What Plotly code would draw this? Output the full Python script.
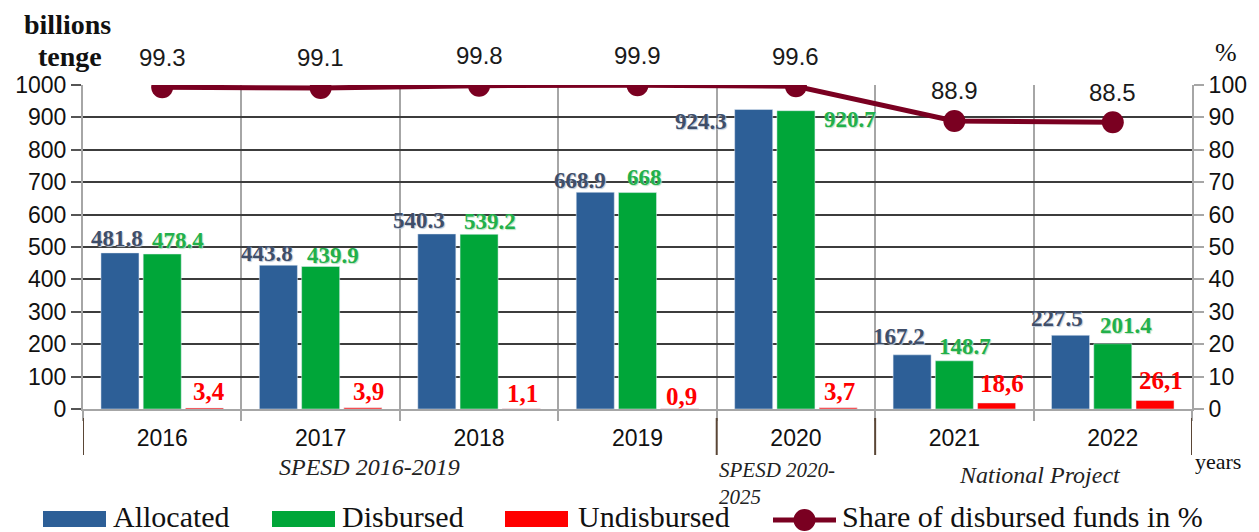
import plotly.graph_objects as go

years = ["2016", "2017", "2018", "2019", "2020", "2021", "2022"]
allocated = [481.8, 443.8, 540.3, 668.9, 924.3, 167.2, 227.5]
disbursed = [478.4, 439.9, 539.2, 668.0, 920.7, 148.7, 201.4]
undisbursed = [3.4, 3.9, 1.1, 0.9, 3.7, 18.6, 26.1]
share = [99.3, 99.1, 99.8, 99.9, 99.6, 88.9, 88.5]
series_names = ["Allocated", "Disbursed", "Undisbursed", "Share of disbursed funds in %"]

left_ticks = list(range(0, 1001, 100))
right_ticks = list(range(0, 101, 10))

# label offsets (px) relative to each bar's top-centre: styling only
alloc_dx = [-3, -11, -18, -15, -53, -13, -14]
alloc_dy = [14, 12, 13, 12, -12, 18, 17]
disb_dx = [16, 12, 11, 7, 54, 11, 13]
disb_dy = [14, 11, 13, 15, -9, 14, 18]
undis_dx = [5, 6, 1, 2, 1, 5, 6]
undis_dy = [16, 16, 15, 12, 16, 19, 20]

# the page body adds an 8px offset; the figure is sized so the window is filled
PAGE_OFF = 8
WIN_W, WIN_H = 1259, 532
W, H = WIN_W - PAGE_OFF, WIN_H - PAGE_OFF
PLOT_L, PLOT_R, PLOT_T, PLOT_B = 83, 1192, 85, 409   # window pixels
ML, MR = PLOT_L - PAGE_OFF, WIN_W - PLOT_R
MT, MB = PLOT_T - PAGE_OFF, WIN_H - PLOT_B
BARGAP, GROUPGAP = 0.2, 0.1
plot_w = PLOT_R - PLOT_L
plot_h = PLOT_B - PLOT_T
slot = plot_w / len(years) * (1 - BARGAP) / 3

BLUE, GREEN, RED, LINE = "#2D5F97", "#00A639", "#FF0000", "#7A0021"
colors = [BLUE, GREEN, RED, LINE]
SERIF = "Liberation Serif, Times New Roman, serif"
SANS = "Liberation Sans, Arial, sans-serif"


def px_x(px):
    return (px - PLOT_L) / plot_w


def px_y(py):
    return (PLOT_B - py) / plot_h


fig = go.Figure()
fig.add_bar(x=years, y=allocated, name=series_names[0], marker_color=BLUE)
fig.add_bar(x=years, y=disbursed, name=series_names[1], marker_color=GREEN)
fig.add_bar(x=years, y=undisbursed, name=series_names[2], marker_color=RED)
fig.add_scatter(x=years, y=share, name=series_names[3], yaxis="y2",
                mode="lines+markers", line=dict(color=LINE, width=5),
                marker=dict(color=LINE, size=22))

ann = []


def fmt(v):
    return f"{v:g}"


for i, yr in enumerate(years):
    ann.append(dict(x=i, y=allocated[i], xref="x", yref="y", text=fmt(allocated[i]),
                    showarrow=False, xshift=-slot + alloc_dx[i], yshift=alloc_dy[i],
                    font=dict(family=SERIF, size=23, color="#3F4E69",
                              shadow="1px 1px 1px #b9c6d6", weight="bold")))
    ann.append(dict(x=i, y=disbursed[i], xref="x", yref="y", text=fmt(disbursed[i]),
                    showarrow=False, xshift=disb_dx[i], yshift=disb_dy[i],
                    font=dict(family=SERIF, size=23, color="#22B04A",
                              shadow="1px 1px 1px #b8e0c0", weight="bold")))
    ann.append(dict(x=i, y=undisbursed[i], xref="x", yref="y",
                    text=f"{undisbursed[i]:.1f}".replace(".", ","),
                    showarrow=False, xshift=slot + undis_dx[i], yshift=undis_dy[i],
                    font=dict(family=SERIF, size=25, color=RED, weight="bold")))
    ann.append(dict(x=i, y=share[i], xref="x", yref="y2", text=f"{share[i]:.1f}",
                    showarrow=False, yshift=30,
                    font=dict(family=SANS, size=24, color="#1a1a1a")))

C = dict(xanchor="center", yanchor="middle", showarrow=False)
ann += [
    dict(x=px_x(67), y=px_y(24), xref="paper", yref="paper", text="<b>billions</b>",
         font=dict(family=SERIF, size=28, color="#111"), **C),
    dict(x=px_x(70), y=px_y(56), xref="paper", yref="paper", text="<b>tenge</b>",
         font=dict(family=SERIF, size=28, color="#111"), **C),
    dict(x=px_x(1226), y=px_y(52), xref="paper", yref="paper", text="%",
         font=dict(family=SERIF, size=26, color="#111"), **C),
    dict(x=1.31, y=px_y(467), xref="x", yref="paper", text="<i>SPESD 2016-2019</i>",
         font=dict(family=SERIF, size=24, color="#222"), **C),
    dict(x=3.5, y=px_y(456), xref="x", yref="paper", text="<i>SPESD 2020-<br>2025</i>",
         showarrow=False, xanchor="left", yanchor="top", align="left",
         font=dict(family=SERIF, size=21, color="#222")),
    dict(x=5.54, y=px_y(475), xref="x", yref="paper", text="<i>National Project</i>",
         font=dict(family=SERIF, size=24, color="#222"), **C),
    dict(x=6.5, y=px_y(461), xref="x", yref="paper", text="years", xanchor="left",
         yanchor="middle", showarrow=False, xshift=1,
         font=dict(family=SERIF, size=22, color="#111")),
]

shapes = []
for b in [-0.5, 3.5, 4.5, 6.5]:
    shapes.append(dict(type="line", xref="x", yref="paper", x0=b, x1=b,
                       y0=px_y(418), y1=px_y(455), line=dict(color="#5a4636", width=2)))

# custom legend (wide swatches like the original)
sw_x0 = [43, 272, 505, 773]
text_x0 = [111, 340, 576, 840]
SW_W = 63
for k, name in enumerate(series_names):
    if k < 3:
        shapes.append(dict(type="rect", xref="paper", yref="paper",
                           x0=px_x(sw_x0[k]), x1=px_x(sw_x0[k] + SW_W),
                           y0=px_y(527), y1=px_y(511), fillcolor=colors[k],
                           line=dict(width=0), layer="above"))
    else:
        shapes.append(dict(type="line", xref="paper", yref="paper",
                           x0=px_x(sw_x0[k]), x1=px_x(sw_x0[k] + SW_W),
                           y0=px_y(520), y1=px_y(520), line=dict(color=colors[k], width=5)))
        cx = sw_x0[k] + SW_W / 2
        shapes.append(dict(type="circle", xref="paper", yref="paper",
                           x0=px_x(cx - 11), x1=px_x(cx + 11),
                           y0=px_y(531), y1=px_y(509), fillcolor=colors[k],
                           line=dict(width=0)))
    ann.append(dict(x=px_x(text_x0[k]), y=px_y(516), xref="paper", yref="paper",
                    text=name, showarrow=False, xanchor="left", yanchor="middle",
                    font=dict(family=SERIF, size=30, color="#111")))

fig.update_layout(
    width=W, height=H,
    margin=dict(l=ML, r=MR, t=MT, b=MB, autoexpand=False),
    paper_bgcolor="white", plot_bgcolor="white",
    barmode="group", bargap=BARGAP, bargroupgap=GROUPGAP,
    annotations=ann, shapes=shapes, showlegend=False,
    xaxis=dict(type="category", range=[-0.5, 6.5], tickson="boundaries", ticks="outside",
               ticklen=10, tickwidth=2, tickcolor="#A6A6A6", showgrid=True,
               gridcolor="#A6A6A6", gridwidth=2, showline=True, linecolor="#A6A6A6",
               linewidth=2, tickfont=dict(family=SANS, size=23, color="#111"),
               ticklabelstandoff=7, automargin=False),
    yaxis=dict(range=[0, 1000], tickvals=left_ticks, showgrid=True, gridcolor="#3c3c3c",
               gridwidth=1.5, zeroline=False, showline=True, linecolor="#A6A6A6",
               linewidth=2, ticks="outside", ticklen=10, tickcolor="#555", tickwidth=1.5,
               tickfont=dict(family=SANS, size=23, color="#111"), automargin=False),
    yaxis2=dict(range=[0, 100], tickvals=right_ticks, overlaying="y", side="right",
                showgrid=False, zeroline=False, showline=True, linecolor="#A6A6A6",
                linewidth=2, ticks="outside", ticklen=10, tickcolor="#A6A6A6", tickwidth=1.5,
                tickfont=dict(family=SANS, size=23, color="#111"), automargin=False),
)

fig.write_html("out.html")
